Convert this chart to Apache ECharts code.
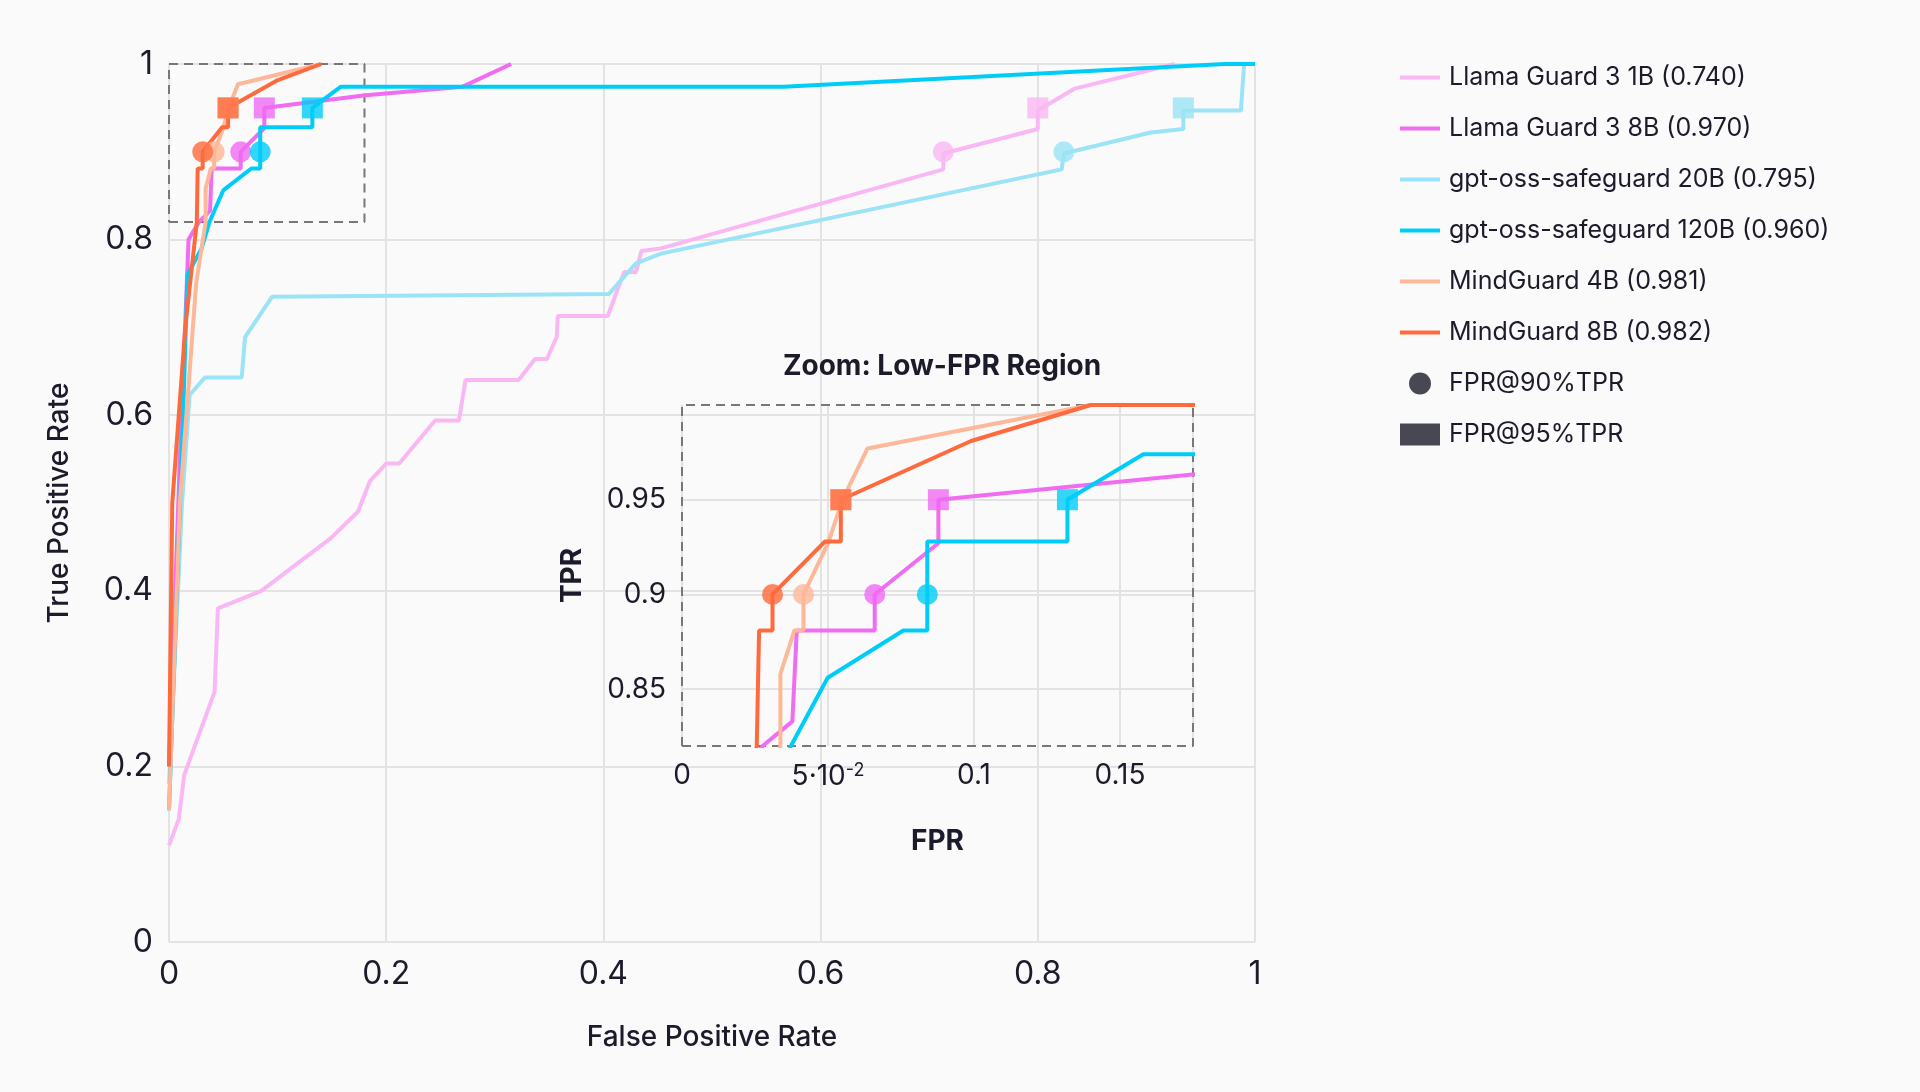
<!DOCTYPE html>
<html lang="en">
<head>
  <meta charset="UTF-8">
  <title>ROC curves</title>
  <style>
    html, body { margin: 0; padding: 0; background: #fafafa; }
    #chart { width: 1920px; height: 1092px; }
  </style>
</head>
<body>
<div id="chart"></div>
<script src="https://cdn.jsdelivr.net/npm/echarts@6/dist/echarts.min.js"></script>
<script>
  // ROC points [fpr, tpr]
  const llama1b = [[0,0.11],[0.009,0.14],[0.014,0.19],[0.042,0.285],[0.045,0.38],[0.085,0.40],[0.149,0.46],[0.174,0.49],[0.185,0.525],[0.2,0.545],[0.212,0.545],[0.245,0.594],[0.267,0.594],[0.273,0.64],[0.322,0.64],[0.337,0.664],[0.348,0.664],[0.357,0.689],[0.358,0.713],[0.404,0.713],[0.419,0.763],[0.43,0.763],[0.435,0.787],[0.453,0.79],[0.713,0.88],[0.713,0.898],[0.8,0.926],[0.8,0.947],[0.834,0.972],[0.926,1.0]];
  const llama8b = [[0,0.2],[0.01,0.55],[0.018,0.8],[0.0276,0.82],[0.0378,0.833],[0.0393,0.881],[0.066,0.881],[0.066,0.9],[0.0878,0.927],[0.0878,0.95],[0.179,0.964],[0.27,0.974],[0.315,1.0]];
  const oss20b = [[0,0.18],[0.012,0.5],[0.019,0.623],[0.033,0.643],[0.067,0.643],[0.070,0.689],[0.095,0.735],[0.405,0.738],[0.43,0.773],[0.453,0.784],[0.822,0.88],[0.824,0.898],[0.904,0.922],[0.934,0.926],[0.934,0.947],[0.987,0.947],[0.99,1.0],[1,1]];
  const oss120b = [[0,0.15],[0.013,0.6],[0.017,0.76],[0.03,0.79],[0.0373,0.82],[0.0499,0.856],[0.0758,0.881],[0.084,0.881],[0.084,0.9],[0.084,0.928],[0.132,0.928],[0.132,0.95],[0.158,0.974],[0.566,0.974],[0.972,1.0],[1,1]];
  const mind4b = [[0,0.15],[0.01,0.5],[0.025,0.75],[0.0337,0.82],[0.0337,0.858],[0.0385,0.881],[0.0416,0.881],[0.0416,0.9],[0.05,0.927],[0.055,0.95],[0.0635,0.977],[0.14,1.0]];
  const mind8b = [[0,0.2],[0.003,0.5],[0.015,0.7],[0.0256,0.82],[0.0264,0.881],[0.031,0.881],[0.031,0.9],[0.049,0.928],[0.0544,0.928],[0.0544,0.95],[0.099,0.981],[0.14,1.0]];
  // the zoom panel keeps drawing the curves along tpr = 1
  const insetTail = [[1, 1]];

  const modelNames = ['Llama Guard 3 1B (0.740)','Llama Guard 3 8B (0.970)','gpt-oss-safeguard 20B (0.795)','gpt-oss-safeguard 120B (0.960)','MindGuard 4B (0.981)','MindGuard 8B (0.982)'];
  const modelColors = ['#f9b8f4','#f06cf2','#9be3f6','#00cdf7','#fdb899','#ff6a3d'];
  const fpr90 = [0.713, 0.066, 0.824, 0.084, 0.0416, 0.031];
  const fpr95 = [0.8, 0.0878, 0.934, 0.132, 0.0544, 0.0544];
  const zoomBox = [[0,0.82],[0.18,0.82],[0.18,1],[0,1],[0,0.82]];
  const insetBox = [[0,0.82],[0.175,0.82],[0.175,1],[0,1],[0,0.82]];
  const insetYTicks = [0.85, 0.9, 0.95];

  const curves = [llama1b, llama8b, oss20b, oss120b, mind4b, mind8b];
  const font = 'Inter';
  const ink = '#1b1b2a';

  const chart = echarts.init(document.getElementById('chart'));
  const series = [];
  [0, 1].forEach(g => {
    curves.forEach((c, i) => {
      series.push({
        name: modelNames[i], type: 'line', data: g === 1 ? c.concat(insetTail) : c,
        xAxisIndex: g, yAxisIndex: g,
        showSymbol: false, symbol: 'none', lineStyle: { color: modelColors[i], width: 4 },
        itemStyle: { color: modelColors[i] }, z: 3, silent: true, clip: true
      });
    });
    curves.forEach((c, i) => {
      series.push({
        type: 'scatter', xAxisIndex: g, yAxisIndex: g, symbol: 'circle', symbolSize: 21,
        data: [[fpr90[i], 0.9]], itemStyle: { color: modelColors[i] }, z: 4, silent: true
      });
      series.push({
        type: 'scatter', xAxisIndex: g, yAxisIndex: g, symbol: 'rect', symbolSize: 21,
        data: [[fpr95[i], 0.95]], itemStyle: { color: modelColors[i] }, z: 4, silent: true
      });
    });
  });
  series.push({ type: 'line', data: zoomBox, xAxisIndex: 0, yAxisIndex: 0, symbol: 'none',
    lineStyle: { color: '#777', width: 2, type: [9, 6] }, z: 2, silent: true });
  series.push({ type: 'line', data: insetBox, xAxisIndex: 1, yAxisIndex: 1, symbol: 'none', clip: false,
    lineStyle: { color: '#777', width: 2, type: [9, 6] }, z: 2, silent: true });
  series.push({ name: 'FPR@90%TPR', type: 'scatter', data: [], itemStyle: { color: ink }, symbol: 'circle' });
  series.push({ name: 'FPR@95%TPR', type: 'scatter', data: [], itemStyle: { color: ink }, symbol: 'rect' });

  const linePath = 'path://M0,0L40,0L40,4L0,4Z';
  const legendData = modelNames.map(n => ({ name: n, icon: linePath }))
    .concat([{ name: 'FPR@90%TPR', icon: 'circle' }, { name: 'FPR@95%TPR', icon: 'rect' }]);

  const option = {
    backgroundColor: '#fafafa',
    animation: false,
    title: {
      text: 'Zoom: Low-FPR Region', left: 937, top: 348, textAlign: 'center',
      textStyle: { fontFamily: font, fontSize: 28, fontWeight: 'bold', color: ink }
    },
    legend: {
      orient: 'vertical', left: 1395, top: 60, itemGap: 26, itemWidth: 40, itemHeight: 22,
      data: legendData, selectedMode: false,
      textStyle: { fontFamily: font, fontSize: 25, color: ink, padding: [0, 0, 0, 4] }
    },
    grid: [
      { left: 169, right: 665, top: 64, bottom: 150 },
      { left: 682, width: 511, top: 405, height: 341, z: 5, show: false }
    ],
    xAxis: [
      { type: 'value', gridIndex: 0, min: 0, max: 1, interval: 0.2,
        name: 'False Positive Rate', nameLocation: 'middle', nameGap: 82,
        nameTextStyle: { fontFamily: font, fontSize: 28, color: ink, fontWeight: 500 },
        axisLine: { show: false }, axisTick: { show: false },
        axisLabel: { fontFamily: font, fontSize: 32, color: ink, margin: 16, formatter: v => String(+v.toFixed(1)) },
        splitLine: { lineStyle: { color: '#e3e3e3', width: 2 } } },
      { type: 'value', gridIndex: 1, min: 0, max: 0.175, interval: 0.05,
        name: 'FPR', nameLocation: 'middle', nameGap: 82,
        nameTextStyle: { fontFamily: font, fontSize: 28, color: ink, fontWeight: 'bold' },
        axisLine: { show: false }, axisTick: { show: false },
        axisLabel: { fontFamily: font, fontSize: 28, color: ink, margin: 16, showMaxLabel: false,
          formatter: v => Math.abs(v - 0.05) < 1e-9 ? '{a|5·10}{s|-2}' : String(+v.toFixed(2)),
          rich: { a: { fontFamily: font, fontSize: 28, color: ink }, s: { fontFamily: font, fontSize: 18, color: ink, verticalAlign: 'top', padding: [0, 0, 12, 0] } } },
        splitLine: { lineStyle: { color: '#e3e3e3', width: 2 } } }
    ],
    yAxis: [
      { type: 'value', gridIndex: 0, min: 0, max: 1, interval: 0.2,
        name: 'True Positive Rate', nameLocation: 'middle', nameGap: 95,
        nameTextStyle: { fontFamily: font, fontSize: 28, color: ink, fontWeight: 500 },
        axisLine: { show: false }, axisTick: { show: false },
        axisLabel: { fontFamily: font, fontSize: 32, color: ink, margin: 16, formatter: v => String(+v.toFixed(1)) },
        splitLine: { lineStyle: { color: '#e3e3e3', width: 2 } } },
      { type: 'value', gridIndex: 1, min: 0.82, max: 1,
        name: 'TPR', nameLocation: 'middle', nameGap: 95,
        nameTextStyle: { fontFamily: font, fontSize: 28, color: ink, fontWeight: 'bold' },
        axisLine: { show: false }, axisTick: { show: false, customValues: insetYTicks },
        axisLabel: { fontFamily: font, fontSize: 28, color: ink, margin: 16, customValues: insetYTicks,
          formatter: v => String(+v.toFixed(2)) },
        splitLine: { lineStyle: { color: '#e3e3e3', width: 2 } } }
    ],
    series: series
  };
  chart.setOption(option);
</script>
</body>
</html>
